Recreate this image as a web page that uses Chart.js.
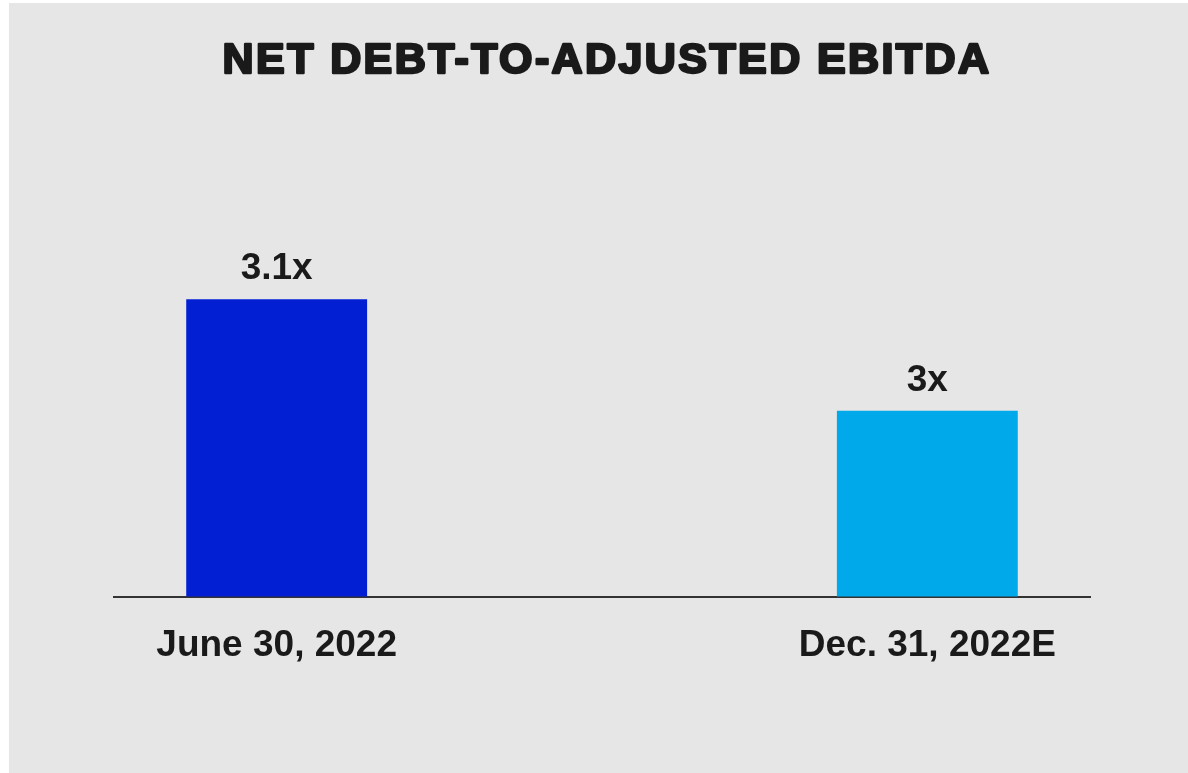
<!DOCTYPE html>
<html>
<head>
<meta charset="utf-8">
<script src="https://cdn.jsdelivr.net/npm/chart.js@4/dist/chart.umd.min.js"></script>
<style>
  html, body { margin: 0; padding: 0; background: #ffffff; }
  .chart-box {
    position: absolute;
    left: 9px;
    top: 3px;
    width: 1179px;
    height: 770px;
    background: #e6e6e6;
  }
</style>
</head>
<body>
<div class="chart-box">
  <canvas id="leverage-chart"></canvas>
</div>
<script>
  const chartTitle = 'NET DEBT-TO-ADJUSTED EBITDA';
  const periods = ['June 30, 2022', 'Dec. 31, 2022E'];
  const ratios = [3.1, 3];
  const barColors = ['#021fd3', '#00a9ea'];

  const textColor = '#1a1a1a';
  const labelFont = { family: 'Liberation Sans, Arial, sans-serif', size: 37, weight: 'bold' };

  // heavy title: filled and stroked so it reads like a black weight
  const heavyTitle = {
    id: 'heavyTitle',
    afterDraw(chart) {
      const ctx = chart.ctx;
      const area = chart.chartArea;
      ctx.save();
      ctx.font = 'bold 43px "Liberation Sans", Arial, sans-serif';
      ctx.letterSpacing = '2.4px';
      ctx.fillStyle = textColor;
      ctx.strokeStyle = textColor;
      ctx.lineWidth = 2.5;
      ctx.lineJoin = 'round';
      ctx.textAlign = 'center';
      ctx.textBaseline = 'alphabetic';
      const x = (area.left + area.right) / 2 + 5;
      ctx.fillText(chartTitle, x, 70);
      ctx.strokeText(chartTitle, x, 70);
      ctx.restore();
    }
  };

  // value labels on top of each bar
  const valueLabels = {
    id: 'valueLabels',
    afterDatasetsDraw(chart) {
      const ctx = chart.ctx;
      const meta = chart.getDatasetMeta(0);
      ctx.save();
      ctx.font = 'bold 37px "Liberation Sans", Arial, sans-serif';
      ctx.fillStyle = textColor;
      ctx.textAlign = 'center';
      ctx.textBaseline = 'alphabetic';
      meta.data.forEach(function(bar, i){
        ctx.fillText(ratios[i] + 'x', bar.x, bar.y - 20);
      });
      ctx.restore();
    }
  };

  // for Bar chart
  const barL = document.getElementById('leverage-chart');
  const levChart = new Chart(barL, {
    type: 'bar',
    data: {
      datasets: [{
        label: 'Net debt-to-adjusted EBITDA',
        data: ratios.map(function(v, i){ return { x: i, y: v }; }),
        backgroundColor: barColors,
        borderWidth: 0,
        categoryPercentage: 1,
        barPercentage: 0.278
      }]
    },
    options: {
      responsive: true,
      maintainAspectRatio: false,
      animation: false,
      layout: {
        padding: { left: 105, right: 98, top: 185, bottom: 78 }
      },
      plugins: {
        legend: { display: false },
        tooltip: { enabled: false },
        title: { display: false }
      },
      scales: {
        x: {
          type: 'linear',
          offset: false,
          min: -0.25,
          max: 1.25,
          afterBuildTicks: function(axis){
            axis.ticks = periods.map(function(p, i){ return { value: i }; });
          },
          grid: { display: false, drawTicks: false },
          border: { display: true, color: '#333333', width: 2 },
          ticks: {
            autoSkip: false,
            maxRotation: 0,
            padding: 27,
            color: textColor,
            font: labelFont,
            callback: function(val){ return periods[val] || ''; }
          }
        },
        y: {
          display: false,
          min: 2.833,
          max: 3.2
        }
      }
    },
    plugins: [valueLabels, heavyTitle]
  });
</script>
</body>
</html>
